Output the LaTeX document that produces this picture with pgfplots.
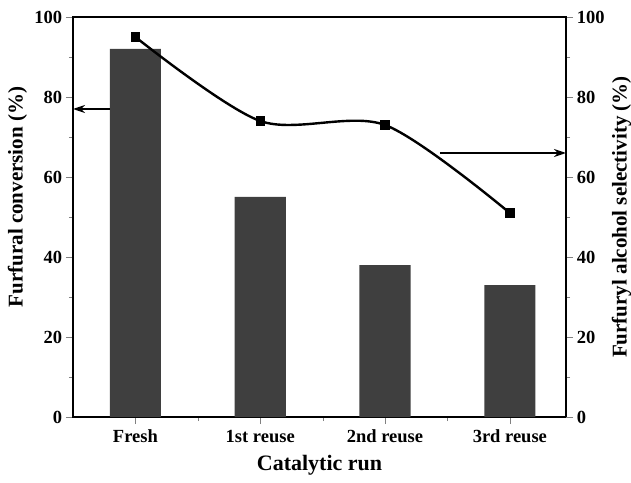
\documentclass[border=0pt]{standalone}
\usepackage{fontspec}
\setmainfont{Liberation Serif}
\usepackage{pgfplots}
\pgfplotsset{compat=1.18}
\usetikzlibrary{arrows.meta}
\definecolor{barc}{HTML}{3F3F3F}
\begin{document}
\begin{tikzpicture}[x=1pt,y=1pt]
\useasboundingbox (-73,-65) rectangle (558,417);
\pgfplotsset{every axis/.append style={
    scale only axis, width=493pt, height=400pt,
    at={(0,0)}, anchor=south west,
    xmin=-0.5, xmax=3.45, ymin=0, ymax=100,
    ytick={0,20,...,100}, minor ytick={10,30,50,70,90},
    tick align=outside, major tick length=7pt, minor tick length=4pt,
    line width=1.2pt,
    /pgf/number format/assume math mode=true,
    tick label style={font=\bfseries\fontsize{18.5}{20}\selectfont},
    label style={font=\bfseries\fontsize{22}{24}\selectfont}}}
\begin{axis}[
    xtick={0,1,2,3},
    xticklabels={Fresh,1st reuse,2nd reuse,3rd reuse},
    minor xtick={0.5,1.5,2.5},
    xtick pos=bottom, ytick pos=left,
    xticklabel style={yshift=-2pt},
    xlabel={Catalytic run},
    xlabel style={yshift=-5pt},
    ylabel={Furfural conversion (\%)},
    ylabel style={at={(ticklabel cs:0.55)}, font=\bfseries\fontsize{21}{24}\selectfont}]
\addplot[ybar, bar width=0.41, fill=barc, draw=none] coordinates {(0,92) (1,55) (2,38) (3,33)};
\draw[-{Stealth[length=12pt,width=8pt]}, line width=1.8pt] (axis cs:-0.205,77) -- (axis cs:-0.5,77);
\end{axis}
\begin{axis}[
    axis y line*=right, axis x line=none,
    ylabel={Furfuryl alcohol selectivity (\%)},
    ylabel style={font=\bfseries\fontsize{21}{24}\selectfont}]
\addplot[smooth, black, line width=2.4pt, mark=square*, mark size=3.5pt] coordinates {(0,95) (1,74) (2,73) (3,51)};
\draw[-{Stealth[length=12pt,width=8pt]}, line width=1.8pt] (axis cs:2.44,66) -- (axis cs:3.45,66);
\end{axis}
\end{tikzpicture}
\end{document}
